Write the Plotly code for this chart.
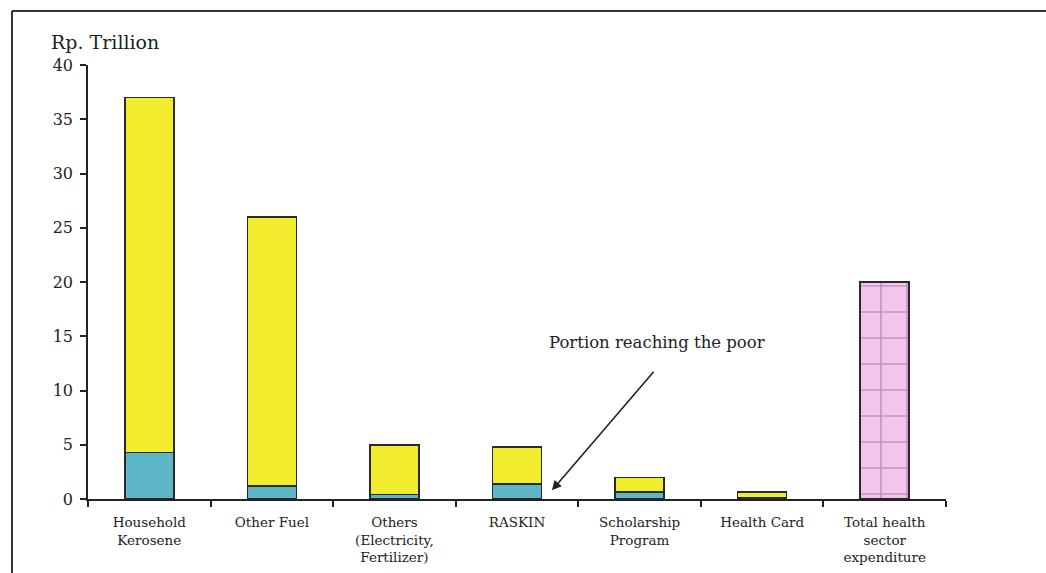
import plotly.graph_objects as go

categories = ["Household<br>Kerosene", "Other Fuel", "Others<br>(Electricity,<br>Fertilizer)",
              "RASKIN", "Scholarship<br>Program", "Health Card",
              "Total health<br>sector<br>expenditure"]
subsidy_total = [37.0, 26.0, 5.0, 4.8, 2.0, 0.65, None]
poor_portion = [4.3, 1.2, 0.4, 1.4, 0.65, 0.1, None]
health_expenditure = [None, None, None, None, None, None, 20.0]
y_ticks = [0, 5, 10, 15, 20, 25, 30, 35, 40]

remainder = [None if t is None else round(t - p, 3) for t, p in zip(subsidy_total, poor_portion)]

FONT = "DejaVu Serif"
EDGE = dict(color="#2a2a2a", width=1.5)

fig = go.Figure()
fig.add_trace(go.Bar(x=categories, y=poor_portion, width=0.4,
                     marker=dict(color="#5db6c6", line=EDGE), name="Portion reaching the poor"))
fig.add_trace(go.Bar(x=categories, y=remainder, width=0.4,
                     marker=dict(color="#f1ec2e", line=EDGE), name="Rest of subsidy"))
fig.add_trace(go.Bar(x=categories, y=health_expenditure, width=0.4,
                     marker=dict(color="#f3c5ea", line=EDGE,
                                 pattern=dict(shape="+", size=26, solidity=0.12,
                                              fgcolor="#96628f", fillmode="overlay")),
                     name="Total health sector expenditure"))

fig.update_layout(
    width=1046, height=573,
    barmode="stack",
    showlegend=False,
    paper_bgcolor="white", plot_bgcolor="rgba(0,0,0,0)",
    margin=dict(l=88, r=100, t=65, b=74),
    font=dict(family=FONT, color="#222", size=13),
    xaxis=dict(type="category", showline=True, linecolor="#222", linewidth=1.5,
               ticks="outside", ticklen=6, tickwidth=1.5, tickcolor="#222",
               tickson="boundaries", showgrid=False, zeroline=False,
               ticklabelstandoff=10, automargin=False,
               tickfont=dict(family=FONT, size=13.5, color="#222")),
    yaxis=dict(range=[0, 40], tickvals=y_ticks, showline=True, linecolor="#222",
               linewidth=1.5, ticks="outside", ticklen=6, tickwidth=1.5,
               tickcolor="#222", showgrid=False, zeroline=False,
               ticklabelstandoff=4, automargin=False,
               tickfont=dict(family=FONT, size=16, color="#222")),
)

fig.add_annotation(text="Rp. Trillion", xref="paper", yref="paper", x=-0.045, y=1.053,
                   xanchor="left", yanchor="middle", showarrow=False,
                   font=dict(family=FONT, size=19, color="#222"))
fig.add_annotation(text="Portion reaching the poor", x=4.14, y=14.4, xref="x", yref="y",
                   showarrow=False, font=dict(family=FONT, size=16.5, color="#222"))
fig.add_annotation(text="", x=3.285, y=0.8, xref="x", yref="y", ax=103, ay=-120,
                   showarrow=True, arrowhead=2, arrowsize=1.2, arrowwidth=1.6,
                   arrowcolor="#222")

# outer frame of the figure
fig.add_shape(type="line", xref="paper", yref="paper", x0=-0.0886, x1=1.12, y0=1.1244, y1=1.1244,
              line=dict(color="#333", width=2))
fig.add_shape(type="line", xref="paper", yref="paper", x0=-0.0886, x1=-0.0886, y0=1.1244, y1=-0.2,
              line=dict(color="#333", width=2))

fig.write_html("out.html")
